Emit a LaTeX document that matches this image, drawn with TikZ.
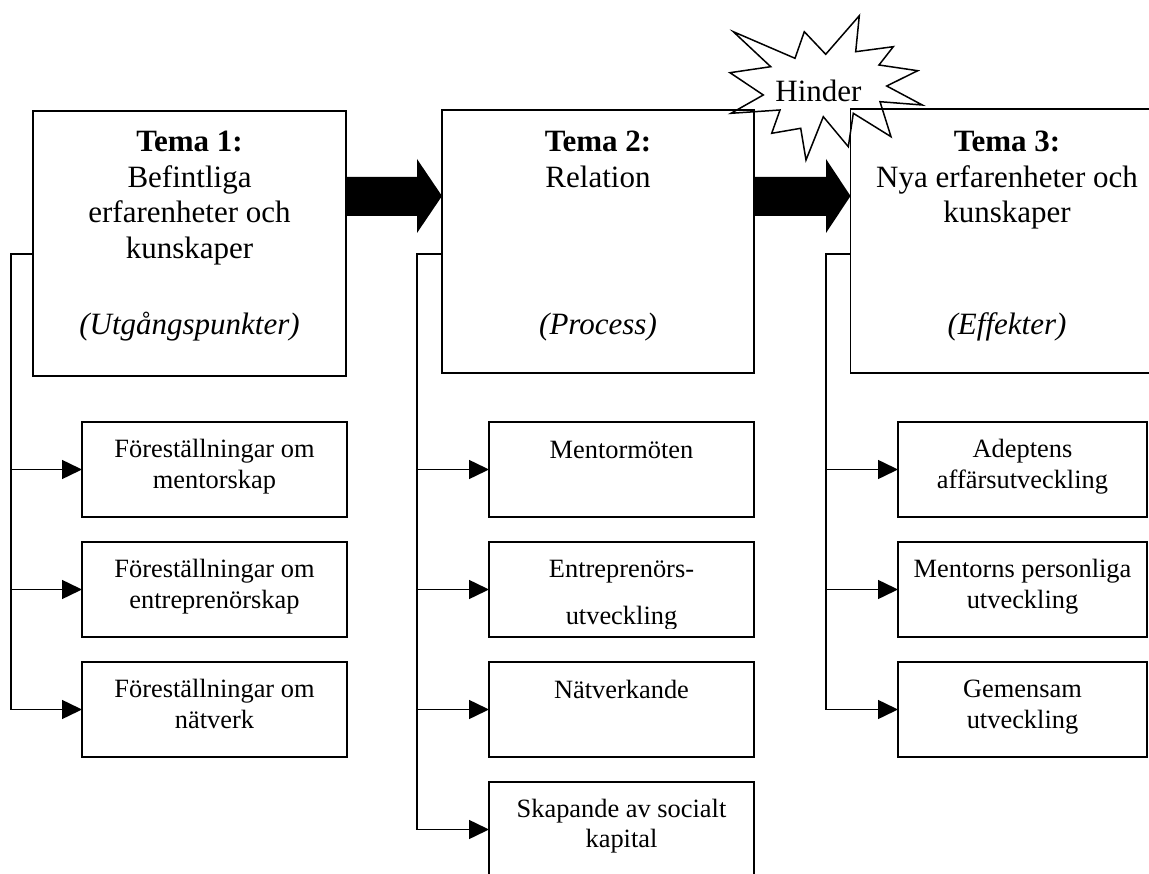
\documentclass[tikz,border=0pt]{standalone}
\usepackage{fontspec}
\setmainfont{Liberation Serif}
\usetikzlibrary{calc,arrows.meta}
\begin{document}
\begin{tikzpicture}[x=1pt,y=-1pt,
  lw/.style={line width=1.5pt},
  bigbox/.style={draw,lw,inner sep=0pt,outer sep=0pt,minimum width=313pt,minimum height=264pt},
  smallbox/.style={draw,lw,inner sep=0pt,outer sep=0pt,minimum width=265pt,minimum height=95pt},
  bigtxt/.style={inner sep=0pt,anchor=base,font=\fontsize{31}{35.5}\selectfont},
  smalltxt/.style={inner sep=0pt,anchor=base,font=\fontsize{26.4}{30}\selectfont},
  conn/.style={lw},
  arr/.style={lw,-{Triangle[length=20pt,width=19pt]}},
  bigarrow/.style={fill=black,draw=none}
]
\useasboundingbox (0,0) rectangle (1149,874);
\clip (0,0) rectangle (1149,874);
\fill[white] (0,0) rectangle (1149,874);

% star "Hinder"
\filldraw[fill=white,lw,line join=miter] (859.3,15.7) -- (855.7,51.7) -- (893.3,46.7) -- (879,65) -- (917.7,70.7)
 -- (886.7,86) -- (922.3,105) -- (880,101.7) -- (891,136.7) -- (853.3,113.3) -- (848.3,146.7)
 -- (823.3,116.7) -- (806,160) -- (800.7,128.3) -- (771.7,133.3) -- (780,110) -- (731,113.3)
 -- (763.3,95) -- (730,72.7) -- (770.7,66.7) -- (733.3,31.7) -- (795,58.3) -- (804.3,31.7)
 -- (825.7,54.3) -- cycle;
\node[bigtxt] (hinder) at (818.5,101.5) {Hinder};

% big boxes
\node[bigbox,minimum height=265pt] (t1) at (189.5,243.5) {};
\node[bigbox,minimum width=312pt,minimum height=263pt] (t2) at (598,241.5) {};
\node[bigbox] (t3) at (1007,241) {};

% big box texts
\node[bigtxt] (t1a) at (189.5,152) {\textbf{Tema 1:}};
\node[bigtxt] (t1b) at (189.5,187.5) {Befintliga};
\node[bigtxt] (t1c) at (189.5,223) {erfarenheter och};
\node[bigtxt] (t1d) at (189.5,258.5) {kunskaper};
\node[bigtxt] (t1e) at (189.5,335) {\textit{(Utgångspunkter)}};

\node[bigtxt] (t2a) at (598,152) {\textbf{Tema 2:}};
\node[bigtxt] (t2b) at (598,187.5) {Relation};
\node[bigtxt] (t2e) at (598,335) {\textit{(Process)}};

\node[bigtxt] (t3a) at (1007,152) {\textbf{Tema 3:}};
\node[bigtxt] (t3b) at (1007,187.5) {Nya erfarenheter och};
\node[bigtxt] (t3c) at (1007,223) {kunskaper};
\node[bigtxt] (t3e) at (1007,335) {\textit{(Effekter)}};

% big arrows
\path[bigarrow] ($(t1.east)+(0,-66.5)$) -- ++(71,0) -- ($(t1.east)+(71,-84.5)$)
  -- ($(t2.west)+(0,-45.5)$) -- ($(t1.east)+(71,-10.5)$) -- ($(t1.east)+(71,-27.5)$)
  -- ($(t1.east)+(0,-27.5)$) -- cycle;
\path[bigarrow] ($(t2.east)+(0,-64.5)$) -- ++(72,0) -- ($(t2.east)+(72,-82.5)$)
  -- ($(t3.west)+(0,-45)$) -- ($(t2.east)+(72,-8.5)$) -- ($(t2.east)+(72,-25.5)$)
  -- ($(t2.east)+(0,-25.5)$) -- cycle;

% column 1
\node[smallbox] (b11) at (214.5,469.5) {};
\node[smallbox] (b12) at (214.5,589.5) {};
\node[smallbox] (b13) at (214.5,709.5) {};
\node[smalltxt] (b11a) at (214.5,457) {Föreställningar om};
\node[smalltxt] (b11b) at (214.5,488) {mentorskap};
\node[smalltxt] (b12a) at (214.5,577) {Föreställningar om};
\node[smalltxt] (b12b) at (214.5,608) {entreprenörskap};
\node[smalltxt] (b13a) at (214.5,697) {Föreställningar om};
\node[smalltxt] (b13b) at (214.5,728) {nätverk};

% column 2
\node[smallbox] (b21) at (621.5,469.5) {};
\node[smallbox] (b22) at (621.5,589.5) {};
\node[smallbox] (b23) at (621.5,709.5) {};
\node[smallbox] (b24) at (621.5,829.5) {};
\node[smalltxt] (b21a) at (621.5,458) {Mentormöten};
\node[smalltxt] (b22a) at (621.5,577) {Entreprenörs-};
\begin{scope}
  \clip (b22.north west) rectangle ($(b22.south east)+(0,-9)$);
  \node[smalltxt] (b22b) at (621.5,624) {utveckling};
\end{scope}
\node[smalltxt] (b23a) at (621.5,698) {Nätverkande};
\node[smalltxt] (b24a) at (621.5,817) {Skapande av socialt};
\node[smalltxt] (b24b) at (621.5,847) {kapital};

% column 3
\node[smallbox,minimum width=249pt] (b31) at (1022.5,469.5) {};
\node[smallbox,minimum width=249pt] (b32) at (1022.5,589.5) {};
\node[smallbox,minimum width=249pt] (b33) at (1022.5,709.5) {};
\node[smalltxt] (b31a) at (1022.5,457) {Adeptens};
\node[smalltxt] (b31b) at (1022.5,488) {affärsutveckling};
\node[smalltxt] (b32a) at (1022.5,577) {Mentorns personliga};
\node[smalltxt] (b32b) at (1022.5,608) {utveckling};
\node[smalltxt] (b33a) at (1022.5,697) {Gemensam};
\node[smalltxt] (b33b) at (1022.5,728) {utveckling};

% brackets
\coordinate (c1) at (11,254);
\coordinate (c2) at (417,254);
\coordinate (c3) at (826,254);
\draw[conn] ($(t1.west)+(0,10.5)$) -- (c1) -- (c1 |- b13.west);
\draw[conn] ($(t2.west)+(0,12.5)$) -- (c2) -- (c2 |- b24.west);
\draw[conn] ($(t3.west)+(0,13)$) -- (c3) -- (c3 |- b33.west);
\foreach \b in {b11,b12,b13} \draw[arr] (c1 |- \b.west) -- (\b.west);
\foreach \b in {b21,b22,b23,b24} \draw[arr] (c2 |- \b.west) -- (\b.west);
\foreach \b in {b31,b32,b33} \draw[arr] (c3 |- \b.west) -- (\b.west);
\end{tikzpicture}
\end{document}
